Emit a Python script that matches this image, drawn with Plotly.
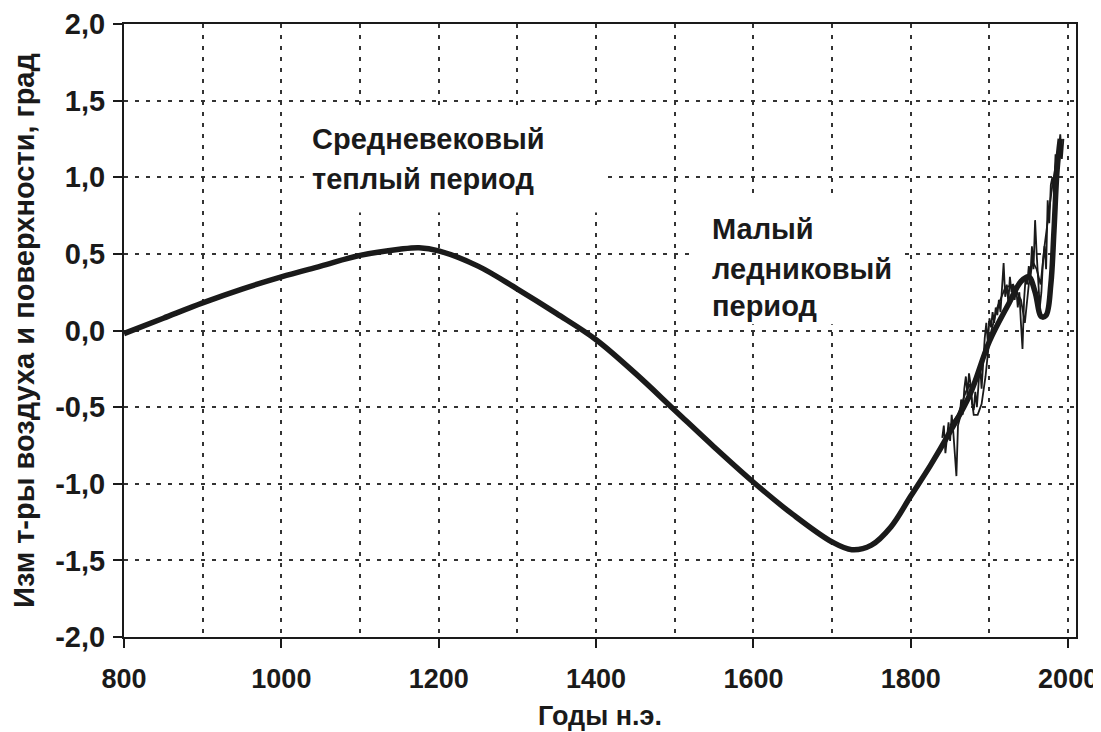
import plotly.graph_objects as go

# Smoothed reconstruction (thick curve)
smooth_years = [800, 850, 900, 950, 1000, 1050, 1100, 1150, 1175, 1200, 1250, 1300, 1350, 1400,
                1450, 1500, 1550, 1600, 1650, 1700, 1725, 1750, 1775, 1800, 1825, 1850, 1875,
                1900, 1925, 1940, 1950, 1958, 1966, 1972, 1978, 1982, 1986, 1990]
smooth_vals = [-0.02, 0.08, 0.18, 0.27, 0.35, 0.42, 0.49, 0.53, 0.54, 0.52, 0.42, 0.27, 0.11, -0.06,
               -0.28, -0.52, -0.76, -0.99, -1.20, -1.38, -1.43, -1.40, -1.28, -1.08, -0.88, -0.66, -0.42,
               -0.07, 0.18, 0.32, 0.35, 0.25, 0.09, 0.10, 0.30, 0.65, 1.05, 1.25]

# Instrumental record (thin noisy line)
obs_years = [1840, 1842, 1844, 1846, 1848, 1850, 1852, 1854, 1856, 1858, 1860, 1862, 1864, 1866,
             1868, 1870, 1872, 1874, 1876, 1878, 1880, 1882, 1884, 1886, 1888, 1890, 1892, 1894,
             1896, 1898, 1900, 1902, 1904, 1906, 1908, 1910, 1912, 1914, 1916, 1918, 1920, 1922,
             1924, 1926, 1928, 1930, 1932, 1934, 1936, 1938, 1940, 1942, 1944, 1946, 1948, 1950,
             1952, 1954, 1956, 1958, 1960, 1962, 1964, 1966, 1968, 1970, 1972, 1974, 1976, 1978,
             1980, 1982, 1984, 1986, 1988, 1990, 1992, 1994]
obs_vals = [-0.70, -0.62, -0.80, -0.68, -0.60, -0.72, -0.55, -0.66, -0.78, -0.95, -0.62, -0.58, -0.45, -0.55,
            -0.38, -0.30, -0.42, -0.28, -0.35, -0.48, -0.52, -0.40, -0.50, -0.32, -0.22, -0.38, -0.18, -0.05,
            0.05, -0.08, 0.08, 0.02, 0.12, 0.05, 0.15, 0.10, 0.20, 0.12, 0.28, 0.44, 0.22, 0.30,
            0.18, 0.35, 0.25, 0.30, 0.20, 0.28, 0.15, 0.25, 0.05, -0.12, 0.20, 0.35, 0.30, 0.42,
            0.35, 0.55, 0.40, 0.72, 0.50, 0.30, 0.15, 0.25, 0.45, 0.55, 0.40, 0.85, 0.70, 0.95,
            1.00, 0.90, 1.15, 1.05, 1.20, 1.28, 1.12, 1.25]

# Decadal-ish running values (second thin line)
run_years = [1850, 1860, 1870, 1875, 1880, 1885, 1890, 1895, 1900, 1910, 1920, 1930, 1940, 1945,
             1950, 1955, 1960, 1965, 1970, 1975, 1980, 1985, 1990]
run_vals = [-0.62, -0.55, -0.40, -0.35, -0.55, -0.55, -0.48, -0.30, -0.05, 0.15, 0.28, 0.30, 0.20, 0.05,
            0.30, 0.45, 0.40, 0.30, 0.55, 0.75, 0.95, 1.10, 1.20]

y_ticks = [-2.0, -1.5, -1.0, -0.5, 0.0, 0.5, 1.0, 1.5, 2.0]
y_labels = ["-2,0", "-1,5", "-1,0", "-0,5", "0,0", "0,5", "1,0", "1,5", "2,0"]
x_ticks = [800, 1000, 1200, 1400, 1600, 1800, 2000]
x_labels = ["800", "1000", "1200", "1400", "1600", "1800", "2000"]

FONT = "Liberation Sans"
INK = "#1a1a1a"

fig = go.Figure()
fig.add_trace(go.Scatter(x=obs_years, y=obs_vals, mode="lines",
                         line=dict(color=INK, width=1.8), hoverinfo="skip"))
fig.add_trace(go.Scatter(x=run_years, y=run_vals, mode="lines",
                         line=dict(color=INK, width=1.8), hoverinfo="skip"))
fig.add_trace(go.Scatter(x=smooth_years, y=smooth_vals, mode="lines",
                         line=dict(color=INK, width=5.5, shape="spline", smoothing=1.0),
                         hoverinfo="skip"))

# white boxes behind the labels (hide grid, not the curves)
fig.add_shape(type="rect", x0=1030, x1=1408, y0=0.77, y1=1.43, xref="x", yref="y",
              fillcolor="white", line_width=0, layer="between")
fig.add_shape(type="rect", x0=1523, x1=1792, y0=0.04, y1=0.89, xref="x", yref="y",
              fillcolor="white", line_width=0, layer="between")

ann_font = dict(family=FONT, size=29, color=INK, weight="bold")
for txt, xx, yy in [("Средневековый", 1036, 1.25), ("теплый период", 1036, 0.99),
                    ("Малый", 1545, 0.66), ("ледниковый", 1545, 0.40), ("период", 1545, 0.16)]:
    fig.add_annotation(x=xx, y=yy, text=txt, showarrow=False, xanchor="left", yanchor="middle",
                       font=ann_font)

axis_common = dict(
    showline=True, linecolor=INK, linewidth=2, mirror=True,
    ticks="outside", ticklen=9, tickwidth=2, tickcolor=INK,
    showgrid=True, gridcolor="#333333", gridwidth=2, griddash="4px,7px",
    zeroline=False, automargin=False,
)

fig.update_xaxes(range=[800, 2010], tickmode="array", tickvals=x_ticks, ticktext=x_labels,
                 minor=dict(dtick=100, showgrid=True, gridcolor="#333333", gridwidth=2,
                            griddash="4px,7px", ticks=""),
                 tickfont=dict(family=FONT, size=27, color=INK, weight="bold"),
                 title=dict(text="Годы н.э.", font=dict(family=FONT, size=27, color=INK, weight="bold"),
                            standoff=13),
                 ticklabelstandoff=8, **axis_common)
fig.update_yaxes(range=[-2, 2], tickmode="array", tickvals=y_ticks, ticktext=y_labels,
                 tickfont=dict(family=FONT, size=29, color=INK, weight="bold"),
                 title=dict(text="Изм т-ры воздуха и поверхности, град",
                            font=dict(family=FONT, size=29, color=INK, weight="bold"), standoff=18),
                 ticklabelstandoff=2, **axis_common)

# the page adds an 8px body margin, so the figure is 8px smaller than the window
fig.update_layout(width=1093, height=724, showlegend=False,
                  margin=dict(l=116, r=25, t=16, b=95),
                  paper_bgcolor="white", plot_bgcolor="white",
                  font=dict(family=FONT))

fig.write_html("out.html")
